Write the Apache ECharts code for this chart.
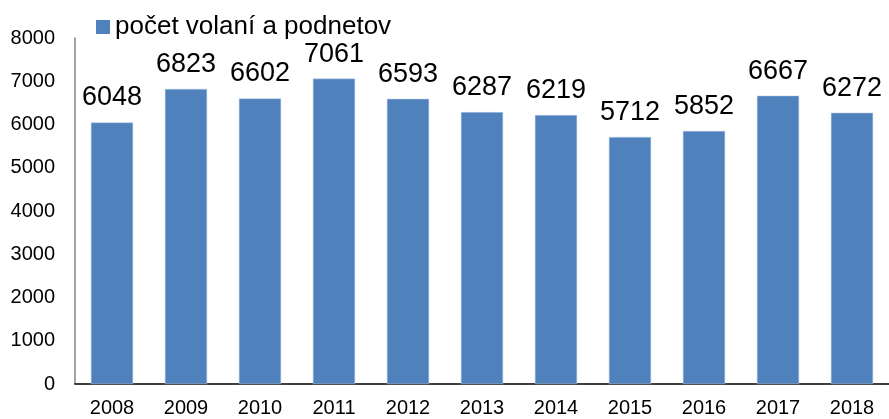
<!DOCTYPE html>
<html>
<head>
<meta charset="utf-8">
<script src="https://cdn.jsdelivr.net/npm/echarts@6/dist/echarts.min.js"></script>
<style>
  html, body { margin: 0; padding: 0; background: #fff; }
  #chart { width: 889px; height: 419px; }
</style>
</head>
<body>
<div id="chart"></div>
<script>
const years = ["2008", "2009", "2010", "2011", "2012", "2013", "2014", "2015", "2016", "2017", "2018"];
const calls = [6048, 6823, 6602, 7061, 6593, 6287, 6219, 5712, 5852, 6667, 6272];
const seriesName = "počet volaní a podnetov";

const chart = echarts.init(document.getElementById("chart"));

const option = {
  animation: false,
  textStyle: { fontFamily: "Liberation Sans, Arial, sans-serif" },
  legend: {
    left: 91,
    top: 9,
    itemWidth: 14,
    itemHeight: 14,
    itemGap: 5,
    icon: "rect",
    itemStyle: { borderWidth: 0 },
    textStyle: { fontSize: 26, color: "#000" },
    data: [seriesName]
  },
  grid: { left: 75, right: -2, top: 38, bottom: 35 },
  xAxis: {
    type: "category",
    data: years,
    axisLine: { lineStyle: { color: "#000", width: 1.5 } },
    axisTick: { show: false },
    axisLabel: { fontSize: 20, color: "#000", margin: 14 }
  },
  yAxis: {
    type: "value",
    min: 0,
    max: 8000,
    interval: 1000,
    axisLine: { show: true, lineStyle: { color: "#868686", width: 1.5 } },
    axisTick: { show: false },
    splitLine: { show: false },
    axisLabel: { fontSize: 20, color: "#000", margin: 20, formatter: (v) => String(v) }
  },
  series: [
    {
      name: seriesName,
      type: "bar",
      data: calls,
      barWidth: "57%",
      itemStyle: { color: "#4F81BD", borderColor: "#b9cde5", borderWidth: 0.5 },
      label: {
        show: true,
        position: "top",
        distance: 11,
        fontSize: 27,
        color: "#000"
      }
    }
  ]
};

chart.setOption(option);
</script>
</body>
</html>
